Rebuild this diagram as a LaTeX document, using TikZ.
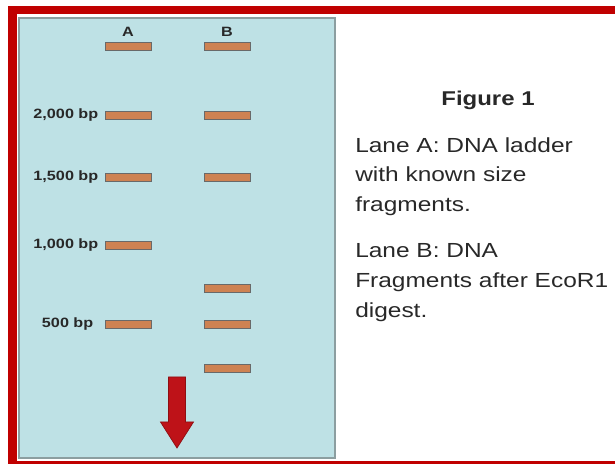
\documentclass[tikz,border=0pt]{standalone}
\usepackage{fontspec}
\setmainfont{Liberation Sans}[FakeStretch=1.2]
\usepackage{tikz}
\usepackage{xcolor}
\usetikzlibrary{arrows.meta, positioning, calc}

\definecolor{gelblue}{RGB}{190,225,229}
\definecolor{gelframe}{RGB}{140,158,160}
\definecolor{framered}{RGB}{192,0,0}
\definecolor{bandfill}{RGB}{206,130,82}
\definecolor{bandline}{RGB}{105,105,105}
\definecolor{arrowred}{RGB}{190,18,24}
\definecolor{textdark}{RGB}{40,40,40}

\begin{document}
\begin{tikzpicture}[
  band/.style={draw=bandline, line width=0.6pt, fill=bandfill, minimum width=1.15cm, minimum height=0.2cm, inner sep=0pt},
  lanelbl/.style={font=\fontsize{9.6}{11}\selectfont\bfseries, text=textdark, inner sep=0pt},
  note/.style={font=\fontsize{14.5}{21.3}\selectfont, text=textdark, align=left, inner sep=0pt, anchor=north west},
]
\useasboundingbox (0,0) rectangle (15.375,11.6);
\clip (0,0) rectangle (15.375,11.6);

% red frame (open on the right) and gel
\draw[framered, line width=0.22cm] (16,11.35) -| (0.3125,-0.0375) -- (16,-0.0375);
\draw[gelframe, fill=gelblue, line width=0.05cm] (0.475,0.15) rectangle (8.375,11.15);

% lane A (ladder)
\node[band] (a1) at (3.2,10.45) {};
\node[band] (a2) at (3.2,8.725) {};
\node[band] (a3) at (3.2,7.175) {};
\node[band] (a4) at (3.2,5.475) {};
\node[band] (a5) at (3.2,3.5) {};

% lane B (EcoR1 digest)
\node[band] (b1) at (5.675,10.45) {};
\node[band] (b2) at (5.675,8.725) {};
\node[band] (b3) at (5.675,7.175) {};
\node[band] (b4) at (5.675,4.4) {};
\node[band] (b5) at (5.675,3.5) {};
\node[band] (b6) at (5.675,2.4) {};

% lane headers and sizes
\node[lanelbl, above=0.12cm of a1] (laneA) {A};
\node[lanelbl, above=0.12cm of b1] (laneB) {B};
\node[lanelbl, left=0.15cm of a2] (s2000) {2,000 bp};
\node[lanelbl, left=0.15cm of a3] (s1500) {1,500 bp};
\node[lanelbl, left=0.15cm of a4] (s1000) {1,000 bp};
\node[lanelbl, left=0.275cm of a5] (s500) {500 bp};

% direction of migration
\draw[draw=arrowred!75!black, fill=arrowred, line width=0.5pt]
  (4.2125,2.175) -- (4.6375,2.175) -- (4.6375,1.05) -- (4.8375,1.05)
  -- (4.425,0.4) -- (4.0125,1.05) -- (4.2125,1.05) -- cycle;

% caption
\node[font=\fontsize{14.2}{17}\selectfont\bfseries, text=textdark, inner sep=0pt, anchor=base] (fig) at (12.2,8.95) {Figure 1};
\node[note] (noteA) at (8.875,8.175) {Lane A: DNA ladder\\with known size\\fragments.};
\node[note] (noteB) at (8.875,5.525) {Lane B: DNA\\Fragments after EcoR1\\digest.};

\end{tikzpicture}
\end{document}
